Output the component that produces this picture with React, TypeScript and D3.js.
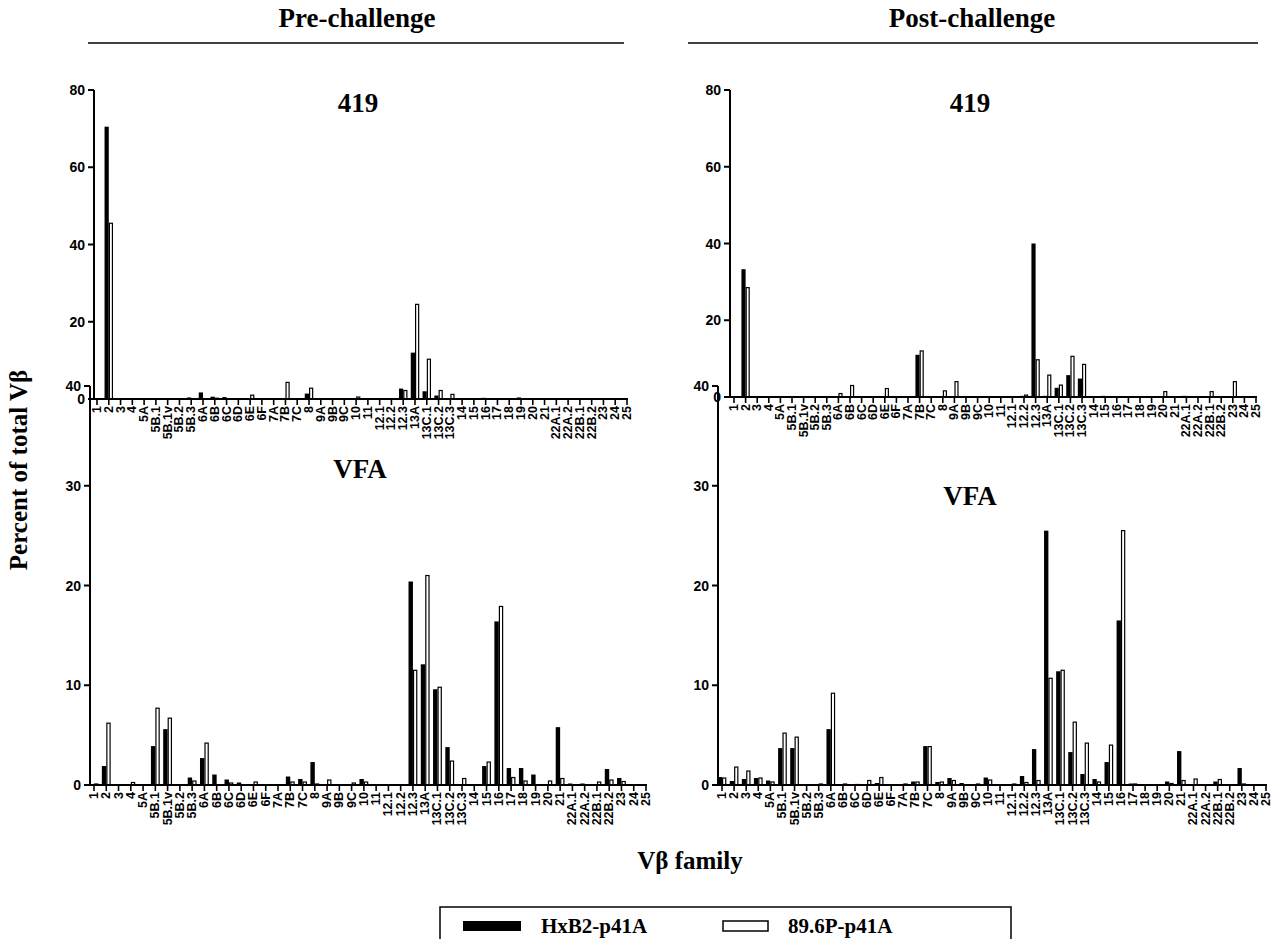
import React from "react";
import * as d3 from "d3";

const categories = ["1","2","3","4","5A","5B.1","5B.1v","5B.2","5B.3","6A","6B","6C","6D","6E","6F","7A","7B","7C","8","9A","9B","9C","10","11","12.1","12.2","12.3","13A","13C.1","13C.2","13C.3","14","15","16","17","18","19","20","21","22A.1","22A.2","22B.1","22B.2","23","24","25"];

// Pre-challenge 419
const preM419Hx = [0,70.5,0,0,0,0,0,0,0.4,1.7,0.6,0.5,0,0.2,0,0,0,0,1.4,0.2,0,0,0,0,0,0,2.7,12,2,0.9,0,0,0,0.3,0.2,0,0.4,0,0,0,0,0,0,0,0,0];
const preM419P = [0,45.5,0,0,0,0,0,0,0,0,0.2,0,0,1.0,0,0,4.3,0,2.8,0,0,0,0.5,0,0,0,2.2,24.5,10.3,2.2,1.2,0,0,0,0,0,0,0,0,0,0,0,0,0,0,0];
// Post-challenge 419
const postM419Hx = [0,33.3,0,0,0,0,0,0,0.1,0,0,0,0,0,0,0,11,0,0,0,0,0,0,0,0,0.3,40,0.3,2.4,5.7,4.8,0,0.3,0,0,0,0,0,0,0.3,0.1,0,0,0,0,0];
const postM419P = [0,28.5,0,0,0,0,0,0,0,0.9,3.0,0,0,2.2,0,0,12,0,1.6,4.0,0,0,0,0,0,0.5,9.7,5.7,3.1,10.6,8.5,0,0,0,0,0,0,1.4,0,0,0,1.4,0,4.0,0,0];
// Pre-challenge VFA
const preVFAHx = [0.1,1.9,0.1,0,0,3.9,5.6,0,0.75,2.7,1.05,0.55,0.25,0,0.05,0,0.85,0.6,2.3,0,0.1,0,0.6,0,0,0,20.4,12.1,9.6,3.8,0,0,1.9,16.4,1.7,1.7,1.05,0,5.8,0.15,0.15,0,1.6,0.7,0,0];
const preVFAP = [0.1,6.2,0,0.25,0,7.7,6.7,0,0.4,4.2,0,0.2,0,0.3,0,0,0.3,0.3,0.1,0.5,0,0.2,0.3,0,0,0,11.5,21,9.8,2.4,0.65,0,2.3,17.9,0.75,0.4,0,0.4,0.65,0,0,0.3,0.5,0.35,0,0];
// Post-challenge VFA
const postVFAHx = [0.8,0.4,0.6,0.7,0.45,3.7,3.7,0,0.1,5.6,0.1,0.05,0,0.2,0.05,0.1,0.35,3.9,0.3,0.7,0.2,0.1,0.75,0.05,0.1,0.9,3.6,25.5,11.4,3.3,1.1,0.6,2.3,16.5,0.15,0.05,0.1,0.35,3.4,0,0.05,0.35,0.05,1.7,0,0];
const postVFAP = [0.7,1.8,1.4,0.7,0.3,5.2,4.8,0,0.1,9.2,0.1,0.05,0.45,0.75,0,0.1,0.3,3.85,0.3,0.45,0,0.1,0.5,0,0.1,0.25,0.45,10.7,11.5,6.3,4.2,0.3,4.0,25.5,0.1,0,0,0.15,0.45,0.6,0,0.55,0,0.1,0,0];

const ticks419 = [0, 20, 40, 60, 80];
const ticksVFA = [0, 10, 20, 30, 40];

const SANS = "'Liberation Sans', Arial, sans-serif";
const SERIF = "'Liberation Serif', 'Times New Roman', serif";

type PanelProps = {
  axisX: number; first: number; last: number; yTop: number; yBot: number; yMax: number;
  yTicks: number[]; hx: number[]; p: number[]; title: string; titleX: number; titleY: number;
};

function Panel({ axisX, first, last, yTop, yBot, yMax, yTicks, hx, p, title, titleX, titleY }: PanelProps) {
  const x = d3.scalePoint<string>().domain(categories).range([first, last]);
  const y = d3.scaleLinear().domain([0, yMax]).range([yBot, yTop]);
  const step = x.step();
  const w = step * 0.36;
  return (
    <g>
      <text x={titleX} y={titleY} textAnchor="middle" fontFamily={SERIF} fontWeight="bold" fontSize={27}>{title}</text>
      {categories.map((c, i) => {
        const cx = x(c) as number;
        return (
          <g key={c}>
            {hx[i] > 0 && (
              <rect x={cx - w} y={y(hx[i])} width={w} height={yBot - y(hx[i])} fill="#000" />
            )}
            {p[i] > 0 && (
              <rect x={cx + 0.6} y={y(p[i])} width={w - 1.2} height={yBot - y(p[i])} fill="#fff" stroke="#000" strokeWidth={1.2} />
            )}
          </g>
        );
      })}
      <line x1={axisX} x2={axisX} y1={yTop} y2={yBot} stroke="#000" strokeWidth={2} />
      {yTicks.map((t) => (
        <g key={t}>
          <line x1={axisX - 6} x2={axisX} y1={y(t)} y2={y(t)} stroke="#000" strokeWidth={2} />
          <text x={axisX - 9} y={y(t) + 5} textAnchor="end" fontFamily={SANS} fontWeight="bold" fontSize={14}>{t}</text>
        </g>
      ))}
      <line x1={axisX} x2={last + 1} y1={yBot} y2={yBot} stroke="#000" strokeWidth={2} />
      {categories.map((c) => {
        const cx = x(c) as number;
        return (
          <g key={c}>
            <line x1={cx} x2={cx} y1={yBot} y2={yBot + 6} stroke="#000" strokeWidth={1.6} />
            <text transform={`translate(${cx + 4},${yBot + 7}) rotate(-90)`} textAnchor="end"
              fontFamily={SANS} fontWeight="bold" fontSize={12.5}>{c}</text>
          </g>
        );
      })}
    </g>
  );
}

export default function App() {
  return (
    <svg width={1286} height={939} style={{ position: "absolute", left: 0, top: 0, background: "#fff" }}>
      <rect x={0} y={0} width={1286} height={939} fill="#fff" />
      <text x={357} y={27} textAnchor="middle" fontFamily={SERIF} fontWeight="bold" fontSize={27}>Pre-challenge</text>
      <line x1={88} x2={624} y1={43} y2={43} stroke="#000" strokeWidth={1.5} />
      <text x={972} y={27} textAnchor="middle" fontFamily={SERIF} fontWeight="bold" fontSize={27}>Post-challenge</text>
      <line x1={688} x2={1258} y1={43} y2={43} stroke="#000" strokeWidth={1.5} />

      <text transform="translate(27,470) rotate(-90)" textAnchor="middle" fontFamily={SERIF} fontWeight="bold" fontSize={25}>Percent of total Vβ</text>

      <Panel axisX={94} first={97} last={627} yTop={90} yBot={399} yMax={80} yTicks={ticks419} hx={preM419Hx} p={preM419P} title="419" titleX={358} titleY={112} />
      <Panel axisX={730} first={734} last={1256} yTop={90} yBot={397} yMax={80} yTicks={ticks419} hx={postM419Hx} p={postM419P} title="419" titleX={970} titleY={112} />
      <Panel axisX={90} first={94} last={646} yTop={386} yBot={785} yMax={40} yTicks={ticksVFA} hx={preVFAHx} p={preVFAP} title="VFA" titleX={360} titleY={478} />
      <Panel axisX={718} first={722} last={1266} yTop={386} yBot={785} yMax={40} yTicks={ticksVFA} hx={postVFAHx} p={postVFAP} title="VFA" titleX={970} titleY={505} />

      <text x={690} y={869} textAnchor="middle" fontFamily={SERIF} fontWeight="bold" fontSize={25}>Vβ family</text>

      <rect x={440} y={907} width={571} height={40} fill="#fff" stroke="#000" strokeWidth={1.5} />
      <rect x={463} y={921} width={58} height={10} fill="#000" />
      <text x={541} y={933} fontFamily={SERIF} fontWeight="bold" fontSize={21}>HxB2-p41A</text>
      <rect x={723} y={921} width={45} height={10} fill="#fff" stroke="#000" strokeWidth={1.5} />
      <text x={788} y={933} fontFamily={SERIF} fontWeight="bold" fontSize={21}>89.6P-p41A</text>
    </svg>
  );
}
